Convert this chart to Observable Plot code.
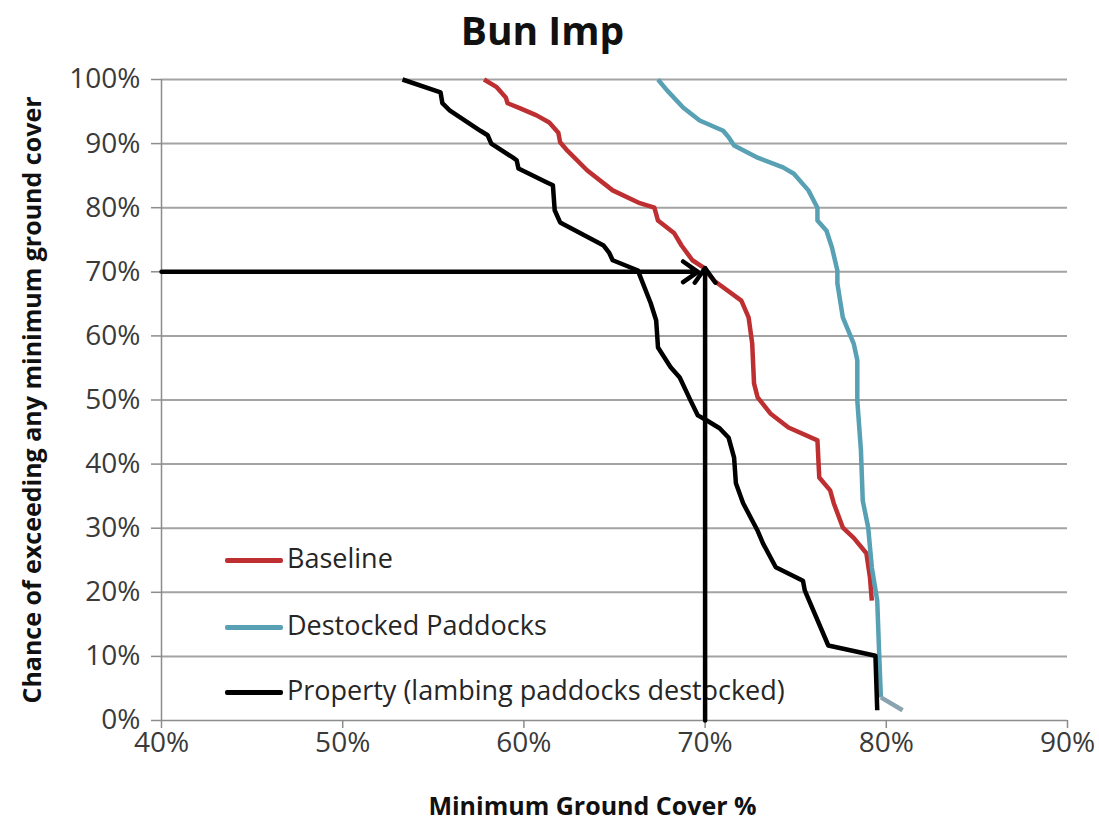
<!DOCTYPE html>
<html><head><meta charset="utf-8">
<script src="https://cdn.jsdelivr.net/npm/d3@7"></script>
<script src="https://cdn.jsdelivr.net/npm/@observablehq/plot@0.6"></script>
<style>
body{margin:0;background:#fff;}
#wrap{position:relative;width:1099px;height:822px;font-family:"Open Sans",sans-serif;overflow:hidden;}
#title{position:absolute;left:0;width:1085px;top:2px;text-align:center;font-weight:bold;font-size:39px;color:#111;line-height:56px;}
.item{position:absolute;left:225px;white-space:nowrap;font-size:27px;color:#262626;line-height:36px;}
.sw{display:inline-block;width:58px;height:5px;vertical-align:middle;margin-right:4px;border-radius:2px;}
#chart{position:absolute;left:0;top:0;}
#chart g[aria-label="y-axis label"], #chart g[aria-label="x-axis label"]{font-weight:bold;font-size:25px;fill:#111;}
</style></head>
<body>
<div id="wrap">
  <div id="title">Bun Imp</div>
  <div id="legend"></div>
  <div id="chart"></div>
</div>
<script>
// ---- data ----
const xTicks = [40, 50, 60, 70, 80, 90];
const yTicks = [0, 10, 20, 30, 40, 50, 60, 70, 80, 90, 100];
const seriesNames = ["Baseline", "Destocked Paddocks", "Property (lambing paddocks destocked)", "overlap"];
const seriesColors = ["#be2f32", "#58a0b4", "#000000", "#8ba3b0"];

const baselineX = [57.8, 58.5, 59.0, 59.1, 59.8, 60.7, 61.4, 61.9, 62.0, 62.4, 63.5, 64.9, 66.4, 67.2, 67.4, 68.3, 68.7, 69.3, 69.9, 70.5, 72.0, 72.4, 72.6, 72.7, 72.9, 73.6, 74.6, 76.2, 76.3, 76.9, 77.1, 77.6, 78.2, 78.9, 79.1, 79.2];
const baselineY = [100, 98.8, 97.2, 96.3, 95.5, 94.4, 93.3, 91.7, 90.2, 88.9, 85.8, 82.7, 80.7, 80.0, 78.0, 76.0, 74.1, 71.8, 70.7, 68.6, 65.5, 62.9, 58.8, 52.6, 50.4, 47.9, 45.7, 43.7, 37.9, 35.9, 33.9, 30.1, 28.5, 26.1, 22.3, 18.7];

const destockedX = [67.4, 67.9, 68.8, 69.7, 71.0, 71.3, 71.6, 72.9, 74.3, 74.9, 75.7, 76.2, 76.2, 76.7, 77.0, 77.3, 77.3, 77.6, 78.2, 78.4, 78.4, 78.6, 78.7, 79.0, 79.2, 79.5, 79.6, 79.7];
const destockedY = [100, 98.3, 95.6, 93.6, 92.0, 91.0, 89.7, 87.8, 86.3, 85.3, 82.7, 80.0, 78.0, 76.4, 73.8, 70.2, 68.2, 62.9, 58.8, 56.2, 49.9, 42.1, 34.3, 30.1, 23.9, 18.7, 10.9, 3.6];

const propertyX = [53.3, 55.4, 55.5, 55.9, 57.6, 58.0, 58.2, 59.4, 59.6, 59.7, 61.3, 61.6, 61.7, 62.0, 64.4, 64.7, 64.9, 66.3, 66.4, 67.0, 67.3, 67.4, 68.1, 68.6, 69.2, 69.6, 70.1, 70.8, 71.3, 71.6, 71.7, 72.1, 72.6, 72.9, 73.2, 73.9, 75.4, 75.5, 76.8, 79.4, 79.5];
const propertyY = [100, 98.0, 96.3, 95.2, 92.0, 91.3, 90.0, 87.8, 87.4, 86.1, 83.9, 83.5, 79.6, 77.7, 74.1, 73.0, 71.8, 70.2, 69.4, 65.1, 62.4, 58.2, 55.1, 53.5, 49.9, 47.6, 46.8, 45.6, 44.1, 41.0, 37.0, 33.9, 31.2, 29.6, 27.6, 23.9, 21.8, 20.3, 11.7, 10.1, 1.6];

const overlapX = [79.7, 80.9];
const overlapY = [3.6, 1.6];

// reading guide arrows (70% chance / 70% cover)
const arrowX1 = [40, 70];
const arrowY1 = [70, 0];
const arrowX2 = [69.6, 70];
const arrowY2 = [70, 70.6];

// ---- build ----
const rows = [];
[[baselineX, baselineY], [destockedX, destockedY], [propertyX, propertyY], [overlapX, overlapY]].forEach(([xs, ys], k) => {
  xs.forEach((x, i) => rows.push({x, y: ys[i], s: seriesNames[k]}));
});
const arrows = arrowX1.map((x1, i) => ({x1, y1: arrowY1[i], x2: arrowX2[i], y2: arrowY2[i]}));

const pct = d => d + "%";
const chart = Plot.plot({
  width: 1099, height: 822,
  marginLeft: 161, marginRight: 32, marginTop: 79, marginBottom: 102,
  style: {fontFamily: "'Open Sans', sans-serif", fontSize: "28px", background: "transparent", overflow: "visible"},
  x: {domain: [40, 90]},
  y: {domain: [0, 100]},
  color: {domain: seriesNames, range: seriesColors},
  marks: [
    Plot.gridY(yTicks.filter(d => d > 0), {stroke: "#a3a3a3", strokeOpacity: 1, strokeWidth: 2}),
    Plot.ruleX([40], {stroke: "#8c8c8c", strokeWidth: 1.5}),
    Plot.ruleY([0], {stroke: "#8c8c8c", strokeWidth: 1.5}),
    Plot.axisY({ticks: yTicks, tickFormat: pct, tickSize: 10, tickPadding: 11, stroke: "#8c8c8c", strokeWidth: 1.5, fill: "#3a3a3a",
      label: "Chance of exceeding any minimum ground cover", labelAnchor: "center", labelOffset: 138, labelArrow: "none"}),
    Plot.axisX({ticks: xTicks, tickFormat: pct, tickSize: 8, tickPadding: 4, stroke: "#8c8c8c", strokeWidth: 1.5, fill: "#3a3a3a",
      label: "Minimum Ground Cover %", labelAnchor: "center", labelOffset: 94, labelArrow: "none"}),
    Plot.line(rows, {x: "x", y: "y", z: "s", stroke: "s", strokeWidth: 4.5, strokeLinejoin: "round", strokeLinecap: "butt"}),
    Plot.arrow(arrows, {x1: "x1", y1: "y1", x2: "x2", y2: "y2", stroke: "#000", strokeWidth: 4.5, headLength: 6, headAngle: 70})
  ]
});
// nudge the x-axis title left so it is centred like the reference
const xl = chart.querySelector('g[aria-label="x-axis label"]');
if (xl) xl.setAttribute("transform", "translate(-22,0) " + (xl.getAttribute("transform") || ""));
document.getElementById("chart").appendChild(chart);

// legend
const legendTops = [540, 607, 672];
const legend = document.getElementById("legend");
seriesNames.slice(0, 3).forEach((name, i) => {
  const d = document.createElement("div");
  d.className = "item";
  d.style.top = legendTops[i] + "px";
  d.innerHTML = `<span class="sw" style="background:${seriesColors[i]}"></span>${name}`;
  legend.appendChild(d);
});
</script>
</body></html>
